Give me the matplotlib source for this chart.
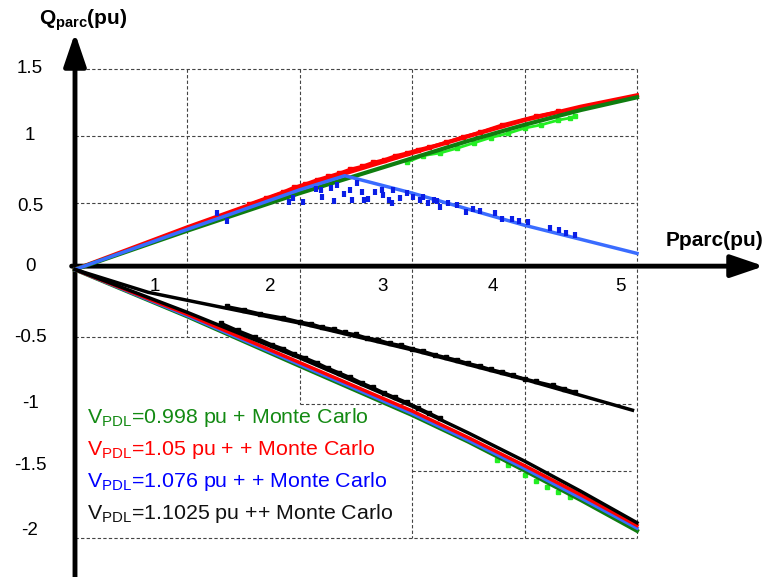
import numpy as np
import matplotlib
matplotlib.use("Agg")
import matplotlib.pyplot as plt

plt.rcParams['font.family'] = ['Liberation Sans', 'DejaVu Sans']
plt.rcParams['mathtext.fontset'] = 'custom'
plt.rcParams['mathtext.rm'] = 'Liberation Sans'
plt.rcParams['mathtext.bf'] = 'Liberation Sans:bold'

# courbes analytiques (P en pu, Q en pu)
p_std = [0, 1, 2, 3, 3.5, 4, 4.5, 5]
q_vert_haut = [0, 0.29, 0.57, 0.83, 0.96, 1.08, 1.19, 1.285]
q_rouge_haut = [0, 0.315, 0.615, 0.87, 0.995, 1.115, 1.215, 1.30]
q_vert_bas = [0, -0.35, -0.72, -1.086, -1.285, -1.50, -1.72, -1.95]
q_rouge_bas = [0, -0.335, -0.695, -1.056, -1.255, -1.464, -1.682, -1.91]
q_bleu_bas = [0, -0.345, -0.71, -1.075, -1.275, -1.485, -1.705, -1.93]
q_noir_bas = [0, -0.32, -0.66, -1.02, -1.22, -1.43, -1.655, -1.89]
p_bleu_haut = [0, 1, 2, 2.4, 3, 4, 5]
q_bleu_haut = [0, 0.30, 0.595, 0.70, 0.57, 0.33, 0.12]
p_noir_court = [0, 0.65, 1, 2, 3, 4, 4.96]
q_noir_court = [0, -0.17, -0.23, -0.40, -0.60, -0.82, -1.05]

# points Monte Carlo
mc_bleu_p = [1.26, 1.35, 1.90, 1.94, 2.03, 2.14, 2.19, 2.20, 2.28, 2.30, 2.33, 2.39, 2.45, 2.46,
             2.51, 2.55, 2.57, 2.61, 2.67, 2.73, 2.74, 2.79, 2.82, 2.83, 2.89, 2.95, 3.01, 3.07,
             3.14, 3.19, 3.25, 3.32, 3.40, 3.48, 3.54, 3.74, 3.80, 3.89, 4.03, 4.23, 4.31, 4.37,
             3.10, 3.22, 3.60, 3.95, 4.45]
mc_bleu_q = [0.42, 0.364, 0.506, 0.53, 0.506, 0.60, 0.59, 0.543, 0.606, 0.514, 0.63, 0.563, 0.593, 0.52,
             0.643, 0.58, 0.52, 0.524, 0.58, 0.593, 0.556, 0.52, 0.494, 0.593, 0.53, 0.569, 0.543, 0.52,
             0.494, 0.52, 0.464, 0.50, 0.48, 0.43, 0.45, 0.42, 0.38, 0.38, 0.357, 0.307, 0.295, 0.275,
             0.54, 0.51, 0.44, 0.36, 0.26]
mc_rouge_p = [1.55, 1.70, 1.85, 1.95, 2.05, 2.15, 2.25, 2.35, 2.45, 2.55, 2.65, 2.75, 2.85, 2.95,
              3.05, 3.15, 3.30, 3.45, 3.60, 3.80, 4.10, 4.30]
mc_rouge_q = [0.49, 0.535, 0.58, 0.615, 0.64, 0.67, 0.695, 0.72, 0.75, 0.77, 0.80, 0.82, 0.85, 0.87,
              0.895, 0.915, 0.95, 0.99, 1.025, 1.08, 1.145, 1.18]
mc_vert_haut_p = [2.95, 3.10, 3.25, 3.40, 3.55, 3.70, 3.85, 4.00, 4.15, 4.30, 4.40, 4.45]
mc_vert_haut_q = [0.80, 0.85, 0.87, 0.905, 0.945, 0.985, 1.015, 1.055, 1.08, 1.115, 1.13, 1.145]
mc_vert_bas_p = [3.75, 3.85, 4.00, 4.10, 4.20, 4.30, 4.40]
mc_vert_bas_q = [-1.42, -1.46, -1.53, -1.575, -1.62, -1.66, -1.70]
mc_noir_long_p = [1.30, 1.45, 1.60, 1.75, 1.85, 1.95, 2.05, 2.15, 2.25, 2.35, 2.45, 2.55, 2.65,
                  2.75, 2.85, 2.95, 3.05, 3.15, 3.25]
mc_noir_long_q = [-0.40, -0.455, -0.505, -0.56, -0.59, -0.63, -0.66, -0.695, -0.735, -0.77, -0.805,
                  -0.845, -0.88, -0.92, -0.955, -0.99, -1.03, -1.07, -1.11]
mc_noir_court_p = [1.35, 1.50, 1.65, 1.85, 2.00, 2.10, 2.20, 2.30, 2.40, 2.50, 2.60, 2.70, 2.80,
                   2.90, 3.00, 3.10, 3.20, 3.30, 3.40, 3.50, 3.60, 3.70, 3.80, 3.90, 4.00, 4.10,
                   4.25, 4.35, 4.45]
mc_noir_court_q = [-0.275, -0.30, -0.33, -0.36, -0.39, -0.405, -0.43, -0.445, -0.47, -0.485, -0.51,
                   -0.525, -0.55, -0.565, -0.59, -0.61, -0.635, -0.655, -0.675, -0.70, -0.72,
                   -0.745, -0.765, -0.79, -0.815, -0.835, -0.865, -0.89, -0.915]

ytick_txt = ['1.5', '1', '0.5', '0', '-0.5', '-1', '-1.5', '-2']
ytick_pos = [1.5, 1, 0.47, 0.025, -0.51, -1, -1.46, -1.95]
xtick_txt = ['1', '2', '3', '4', '5']
xtick_pos = [0.71, 1.74, 2.74, 3.72, 4.85]

legende = [r'V$_{\mathrm{PDL}}$=0.998 pu + Monte Carlo',
           r'V$_{\mathrm{PDL}}$=1.05 pu + + Monte Carlo',
           r'V$_{\mathrm{PDL}}$=1.076 pu + + Monte Carlo',
           r'V$_{\mathrm{PDL}}$=1.1025 pu ++ Monte Carlo']
couleurs_leg = ['#138a13', '#ff0000', '#0000ff', '#111111']

vert = '#0f7d0f'
rouge = '#ff0000'
bleu = '#3a6cff'

fig = plt.figure(figsize=(7.68, 5.77), dpi=100)
ax = fig.add_axes([0, 0, 1, 1])
ax.set_xlim(-75 / 112.4, 693 / 112.4)
ax.set_ylim(-307.5 / 134, 269.5 / 134)
ax.axis('off')

# grille en pointilles (morceaux)
gs = dict(color='#444444', lw=0.8, ls=(0, (3, 2)), zorder=1)
for y in [1.5, 1, 0.5, -0.5, -2]:
    ax.plot([0, 5], [y, y], **gs)
ax.plot([2, 4.95], [-1, -1], **gs)
ax.plot([3, 4.95], [-1.5, -1.5], **gs)
ax.plot([1, 1], [1.5, -0.5], **gs)
ax.plot([2, 2], [1.5, -1], **gs)
for x in [3, 4, 5]:
    ax.plot([x, x], [1.5, -2], **gs)

# axes avec fleches
fl = dict(arrowstyle='-|>,head_length=0.5,head_width=0.17', lw=3.5,
          color='k', mutation_scale=40, shrinkA=0, shrinkB=0)
ax.annotate('', xy=(0, 1.765), xytext=(0, -2.3), arrowprops=fl, zorder=2,
            annotation_clip=False)
ax.annotate('', xy=(6.13, 0.025), xytext=(-0.03, 0.025), arrowprops=fl, zorder=2,
            annotation_clip=False)

# Monte Carlo (nuages le long des courbes)
ax.plot(mc_rouge_p, mc_rouge_q, '-s', color=rouge, ms=3, lw=2, zorder=3)
ax.plot(mc_vert_haut_p, mc_vert_haut_q, '-s', color='#22ee22', ms=3, lw=2, zorder=3)
ax.plot(mc_vert_bas_p, mc_vert_bas_q, 's', color='#22ee22', ms=3, zorder=3)
ax.plot(mc_noir_long_p, mc_noir_long_q, '-s', color='k', ms=3, lw=2, zorder=6)
ax.plot(mc_noir_court_p, mc_noir_court_q, '-s', color='k', ms=3, lw=2, zorder=6)

# courbes
ax.plot(p_std, q_rouge_haut, color=rouge, lw=3, zorder=4)
ax.plot(p_std, q_vert_haut, color=vert, lw=3, zorder=4)
ax.plot(p_bleu_haut, q_bleu_haut, color=bleu, lw=2.5, zorder=5)
ax.plot(p_std, q_vert_bas, color=vert, lw=3, zorder=4)
ax.plot(p_std, q_bleu_bas, color=bleu, lw=2.5, zorder=4)
ax.plot(p_std, q_rouge_bas, color=rouge, lw=2.5, zorder=4)
ax.plot(p_std, q_noir_bas, color='k', lw=2.5, zorder=5)
ax.plot(p_noir_court, q_noir_court, color='k', lw=2.5, zorder=5)
ax.plot(mc_bleu_p, mc_bleu_q, '|', color='#0a1ee6', ms=5, mew=3, zorder=6)

# etiquettes
for t, y in zip(ytick_txt, ytick_pos):
    ax.text(-0.40, y, t, ha='center', va='center', fontsize=13.5)
for t, x in zip(xtick_txt, xtick_pos):
    ax.text(x, -0.125, t, ha='center', va='center', fontsize=13.5)

ax.text(0.07, 1.86, r'Q$_{\mathbf{parc}}$(pu)', ha='center', va='center',
        fontsize=15, fontweight='bold')
ax.text(5.69, 0.22, 'Pparc(pu)', ha='center', va='center', fontsize=15, fontweight='bold')

for i, (t, c) in enumerate(zip(legende, couleurs_leg)):
    ax.text(0.107, -1.108 - 0.238 * i, t, color=c, ha='left', va='center', fontsize=15.4)

fig.savefig('out.png', dpi=100)
